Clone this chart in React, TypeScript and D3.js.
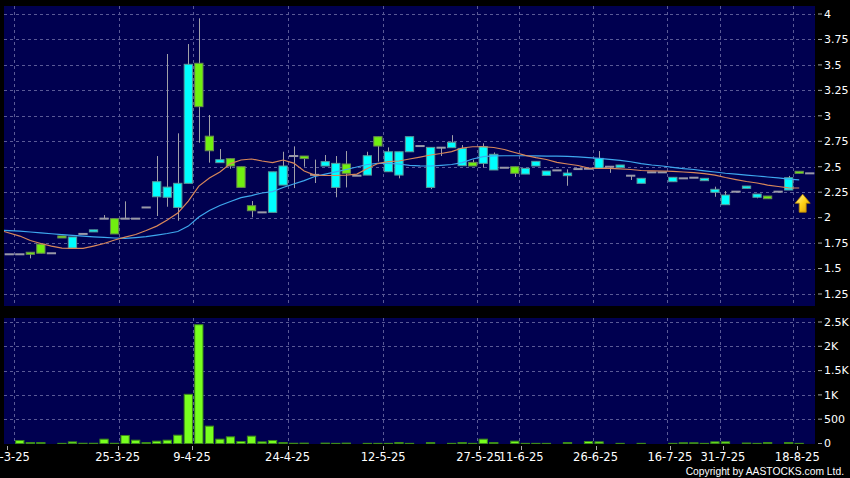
import React from "react";
import * as d3 from "d3";

// ---- data (one entry per trading slot) ----
const opens = [1.64,1.64,1.66,1.74,1.65,1.82,1.70,1.84,1.86,1.99,1.99,1.99,1.99,2.10,2.205,2.20,2.10,2.337,3.516,2.80,2.54,2.579,2.50,2.117,2.052,2.052,2.32,2.605,2.605,2.42,2.507,2.297,2.527,2.412,2.418,2.795,2.451,2.418,2.647,2.703,2.297,2.687,2.687,2.51,2.543,2.533,2.468,2.49,2.50,2.428,2.507,2.415,2.464,2.412,2.477,2.48,2.484,2.50,2.494,2.412,2.337,2.445,2.445,2.353,2.386,2.392,2.363,2.249,2.127,2.255,2.288,2.20,2.212,2.255,2.271,2.455,2.435];
const highs = [1.64,1.64,1.66,1.74,1.65,1.82,1.81,1.84,1.88,2.025,1.99,2.16,1.99,2.10,2.605,3.607,2.828,3.705,3.958,3.008,2.674,2.58,2.50,2.163,2.052,2.45,2.647,2.70,2.605,2.57,2.615,2.605,2.654,2.412,2.647,2.795,2.69,2.647,2.795,2.703,2.69,2.687,2.81,2.713,2.57,2.73,2.64,2.49,2.50,2.484,2.553,2.458,2.464,2.474,2.477,2.48,2.654,2.50,2.517,2.412,2.386,2.445,2.445,2.396,2.386,2.392,2.386,2.304,2.261,2.255,2.31,2.232,2.212,2.255,2.41,2.455,2.435];
const lows = [1.64,1.64,1.60,1.65,1.65,1.81,1.70,1.84,1.86,1.99,1.84,1.99,1.99,2.10,2.016,2.107,1.97,2.337,2.736,2.54,2.54,2.48,2.297,2.003,2.052,2.052,2.32,2.29,2.50,2.34,2.507,2.20,2.297,2.412,2.418,2.55,2.451,2.386,2.647,2.703,2.28,2.605,2.687,2.51,2.507,2.49,2.468,2.49,2.40,2.428,2.507,2.415,2.464,2.313,2.477,2.48,2.484,2.44,2.494,2.37,2.337,2.445,2.445,2.353,2.386,2.392,2.363,2.205,2.127,2.255,2.288,2.19,2.186,2.255,2.271,2.435,2.435];
const closes = [1.64,1.64,1.64,1.65,1.65,1.81,1.81,1.84,1.88,1.99,1.84,1.99,1.99,2.10,2.353,2.30,2.337,3.506,3.09,2.657,2.569,2.507,2.297,2.068,2.052,2.45,2.507,2.605,2.58,2.42,2.55,2.533,2.435,2.412,2.608,2.703,2.647,2.647,2.795,2.703,2.69,2.687,2.74,2.68,2.507,2.697,2.622,2.49,2.435,2.484,2.553,2.458,2.464,2.438,2.477,2.48,2.582,2.50,2.517,2.412,2.386,2.445,2.445,2.396,2.386,2.392,2.386,2.278,2.222,2.255,2.31,2.232,2.186,2.255,2.392,2.435,2.435];
const volumes = [0,62,20,20,0,3,33,5,5,89,5,165,68,20,48,68,171,1012,2444,357,89,137,41,151,34,62,20,5,8,0,8,3,8,0,3,3,3,20,3,0,20,0,3,20,3,89,20,0,48,3,3,3,0,20,0,41,34,0,3,0,3,0,0,3,15,15,3,34,34,0,10,3,20,0,20,3,0];
const maShort = [1.864,1.819,1.775,1.746,1.721,1.701,1.698,1.698,1.721,1.746,1.780,1.809,1.834,1.873,1.917,1.976,2.045,2.163,2.31,2.389,2.448,2.531,2.566,2.576,2.556,2.541,2.566,2.536,2.458,2.418,2.414,2.414,2.418,2.428,2.482,2.531,2.551,2.556,2.576,2.595,2.615,2.630,2.649,2.684,2.696,2.696,2.689,2.669,2.640,2.612,2.590,2.571,2.543,2.527,2.512,2.487,2.484,2.484,2.479,2.473,2.463,2.460,2.458,2.455,2.448,2.443,2.433,2.418,2.394,2.374,2.355,2.340,2.320,2.306,2.293,2.291];
const maLong = [1.875,1.868,1.859,1.851,1.842,1.834,1.826,1.819,1.812,1.806,1.800,1.796,1.804,1.814,1.829,1.844,1.864,1.917,2.006,2.070,2.119,2.158,2.197,2.217,2.242,2.256,2.296,2.330,2.364,2.404,2.428,2.450,2.473,2.497,2.522,2.533,2.533,2.527,2.514,2.509,2.507,2.514,2.522,2.541,2.576,2.600,2.607,2.608,2.608,2.608,2.607,2.605,2.605,2.602,2.597,2.590,2.582,2.573,2.563,2.549,2.531,2.517,2.507,2.494,2.482,2.473,2.460,2.448,2.436,2.428,2.418,2.409,2.399,2.391,2.379,2.371];
const priceTicks = [1.25,1.5,1.75,2,2.25,2.5,2.75,3,3.25,3.5,3.75,4];
const volTicks = [0,500,1000,1500,2000,2500];
const volTickLabels = ["0","500","1K","1.5K","2K","2.5K"];
const dateTickSlots = [0,10,17,26,35,44,48,55,62,67,74];
const dateTickLabels = ["10-3-25","25-3-25","9-4-25","24-4-25","12-5-25","27-5-25","11-6-25","26-6-25","16-7-25","31-7-25","18-8-25"];
const arrowSlot = 75;
const arrowPrice = 2.23;

const FONT = "'DejaVu Sans', Verdana, sans-serif";
const BG = "#000050";
const GRID = "#5a5a96";
const UP = "#00ffff";
const DOWN = "#70f010";

export default function App() {
  const W = 850, H = 478;
  const n = closes.length;
  const left = 4, right = 815;
  const pTop = 6, pBot = 306, vTop = 318, vBot = 444;
  const x = d3.scaleBand<number>().domain(d3.range(n)).range([left, right]).paddingInner(0.12).paddingOuter(0.06);
  const bw = x.bandwidth();
  const step = x.step();
  const cx = (i: number) => (x(i) as number) + bw / 2;
  const gridX = (i: number) => cx(i) + step * 0.44;
  const y = d3.scaleLinear().domain([1.25, 4]).range([294, 14]);
  const yv = d3.scaleLinear().domain([0, 2500]).range([443.5, 322]);

  const maLine = d3.line<number>().x((_, i) => (i === 0 ? left : cx(i))).y((d) => y(d));

  const labelX = (gx: number, i: number) => (i === 0 ? gx - 6.5 : gx - 2.5 + (6.5 * (gx - 14)) / 778);

  const ax = cx(arrowSlot) + 3.5;
  const at = y(arrowPrice);
  const arrowPts = [
    [ax, at], [ax + 7.5, at + 9], [ax + 3.5, at + 9], [ax + 3.5, at + 18],
    [ax - 3.5, at + 18], [ax - 3.5, at + 9], [ax - 7.5, at + 9],
  ].map((p) => p.join(",")).join(" ");

  return (
    <div style={{ position: "absolute", left: 0, top: 0 }}>
      <svg width={W} height={H} style={{ display: "block" }}>
        <defs>
          <clipPath id="pclip"><rect x={left} y={pTop} width={right - left} height={pBot - pTop} /></clipPath>
          <clipPath id="vclip"><rect x={left} y={vTop} width={right - left} height={vBot - vTop} /></clipPath>
          <linearGradient id="arrowg" x1="0" y1="0" x2="1" y2="1">
            <stop offset="0" stopColor="#fff6a0" />
            <stop offset="0.5" stopColor="#ffd21a" />
            <stop offset="1" stopColor="#d89a00" />
          </linearGradient>
        </defs>
        <rect x={0} y={0} width={W} height={H} fill="#000" />
        {/* price panel */}
        <rect x={left} y={pTop} width={right - left} height={pBot - pTop} fill={BG} />
        <g clipPath="url(#pclip)">
          {priceTicks.map((t) => (
            <line key={"pg" + t} x1={left} x2={right} y1={Math.round(y(t)) + 0.5} y2={Math.round(y(t)) + 0.5} stroke={GRID} strokeDasharray="3,3" />
          ))}
          {dateTickSlots.map((s) => (
            <line key={"vg" + s} x1={Math.round(gridX(s)) + 0.5} x2={Math.round(gridX(s)) + 0.5} y1={pTop} y2={pBot} stroke={GRID} strokeDasharray="3,3" />
          ))}
          {closes.map((c, i) => (
            <line key={"w" + i} x1={Math.round(cx(i)) + 0.5} x2={Math.round(cx(i)) + 0.5} y1={y(highs[i])} y2={y(lows[i])} stroke="#a0a0a8" strokeWidth={1} />
          ))}
          {closes.map((c, i) => {
            const o = opens[i];
            if (Math.abs(o - c) < 1e-9) {
              return <rect key={"b" + i} x={x(i)} y={y(c) - 1} width={bw} height={2} fill="#9a9aa8" />;
            }
            const top = y(Math.max(o, c));
            const h = Math.max(2, y(Math.min(o, c)) - top);
            return (
              <rect key={"b" + i} x={(x(i) as number) + 0.5} y={top} width={bw - 1} height={h}
                fill={c > o ? UP : DOWN} stroke={c > o ? "#5a9a9a" : "#6a8a50"} strokeWidth={1} />
            );
          })}
          <path d={maLine(maLong) || ""} fill="none" stroke="#3ea8ee" strokeWidth={1.2} />
          <path d={maLine(maShort) || ""} fill="none" stroke="#d8875a" strokeWidth={1.2} />
          <polygon points={arrowPts} fill="url(#arrowg)" stroke="#b88400" strokeWidth={0.8} />
        </g>
        {priceTicks.map((t) => (
          <g key={"pt" + t}>
            <line x1={818} x2={822} y1={y(t)} y2={y(t)} stroke="#aaa" />
            <text x={824} y={y(t)} dy="0.35em" fill="#fff" fontSize={11} fontFamily={FONT}>{String(t)}</text>
          </g>
        ))}
        {/* volume panel */}
        <rect x={left} y={vTop} width={right - left} height={vBot - vTop} fill={BG} />
        <g clipPath="url(#vclip)">
          {volTicks.map((t) => (
            <line key={"vgl" + t} x1={left} x2={right} y1={Math.round(yv(t)) + 0.5} y2={Math.round(yv(t)) + 0.5} stroke={GRID} strokeDasharray="3,3" />
          ))}
          {dateTickSlots.map((s) => (
            <line key={"vvg" + s} x1={Math.round(gridX(s)) + 0.5} x2={Math.round(gridX(s)) + 0.5} y1={vTop} y2={vBot} stroke={GRID} strokeDasharray="3,3" />
          ))}
          {volumes.map((v, i) => v > 0 ? (
            <rect key={"v" + i} x={(x(i) as number) + 0.5} y={yv(v)} width={bw - 1} height={yv(0) - yv(v)}
              fill="#78ff1e" stroke="#3c8a1a" strokeWidth={1} />
          ) : null)}
        </g>
        {volTicks.map((t, i) => (
          <g key={"vt" + t}>
            <line x1={818} x2={822} y1={yv(t)} y2={yv(t)} stroke="#aaa" />
            <text x={824} y={yv(t)} dy="0.35em" fill="#fff" fontSize={11} fontFamily={FONT}>{volTickLabels[i]}</text>
          </g>
        ))}
        {/* date axis */}
        {dateTickSlots.map((s, i) => {
          const gx = gridX(s);
          const lx = labelX(gx, i);
          return (
            <g key={"dt" + s}>
              <line x1={Math.round(lx) + 0.5} x2={Math.round(lx) + 0.5} y1={446} y2={450} stroke="#aaa" />
              <text x={lx} y={461} textAnchor="middle" fill="#fff" fontSize={11.5} fontFamily={FONT}>{dateTickLabels[i]}</text>
            </g>
          );
        })}
        <text x={844} y={474.5} textAnchor="end" fill="#fff" fontSize={10.3}
          fontFamily="'Liberation Sans', Arial, sans-serif">Copyright by AASTOCKS.com Ltd.</text>
      </svg>
    </div>
  );
}
